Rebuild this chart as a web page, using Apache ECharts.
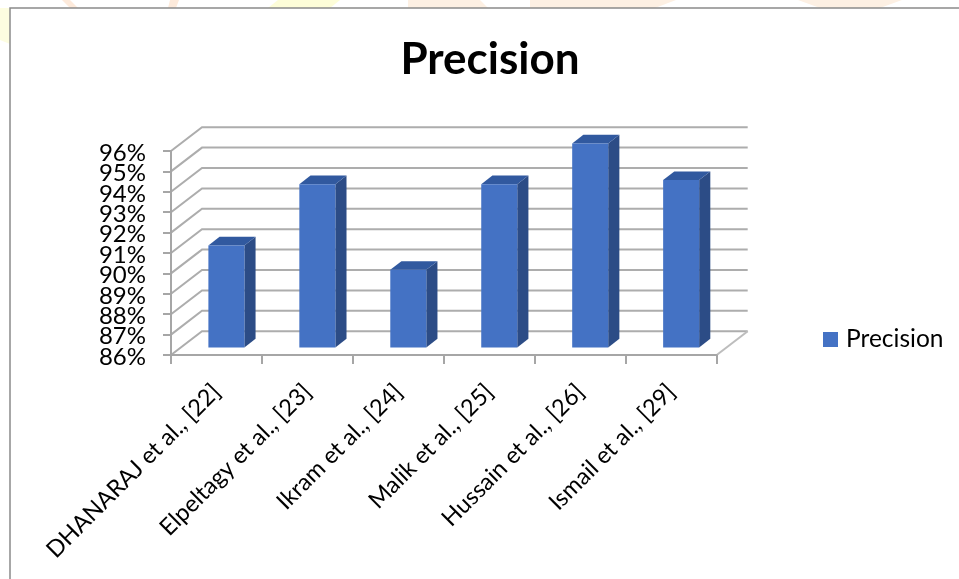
<!DOCTYPE html>
<html>
<head>
<meta charset="utf-8">
<title>Precision</title>
<script src="https://cdn.jsdelivr.net/npm/echarts@6/dist/echarts.min.js"></script>
<style>
html,body{margin:0;padding:0;background:#fff}
#chart{width:959px;height:579px}
</style>
</head>
<body>
<div id="chart"></div>
<script>
// Precision reported by each study
const studies = ['DHANARAJ et al., [22]', 'Elpeltagy et al., [23]', 'Ikram et al., [24]', 'Malik et al., [25]', 'Hussain et al., [26]', 'Ismail et al., [29]'];
const precision = [91, 94, 89.8, 94, 96, 94.2];
const gridTicks = [86, 87, 88, 89, 90, 91, 92, 93, 94, 95, 96];

// Oblique projection of the chart's depth axis, in pixels
const DEPTH_X = 31, DEPTH_Y = -23.8;
const BAR_NEAR = 0.32, BAR_FAR = 0.68, BAR_WIDTH = 0.396;

const FONT = 'Lato, "Open Sans", sans-serif';

// One gridline across the side and back walls, plus its percent label.
// The labels sit closer together than the axis's own overlap check allows,
// so they are drawn here to keep every one of them visible.
function renderWalls(params, api) {
  const value = api.value(0);
  const c = api.coord([0, value]);
  const sys = params.coordSys;
  const x0 = sys.x, x1 = sys.x + sys.width;
  const y = c[1];
  const children = [
    { type: 'polyline', shape: { points: [[x0, y], [x0 + DEPTH_X, y + DEPTH_Y], [x1 + DEPTH_X, y + DEPTH_Y]] },
      style: { fill: null, stroke: '#adadad', lineWidth: 2 } },
    { type: 'text', style: { x: x0 - 25, y: y + 2, text: value + '%', align: 'right', verticalAlign: 'middle',
      fill: '#000', fontFamily: FONT, fontSize: 24 } }
  ];
  if (params.dataIndex === 0) {
    // right edge of the floor
    children.push({ type: 'line', shape: { x1: x1, y1: y, x2: x1 + DEPTH_X, y2: y + DEPTH_Y },
      style: { stroke: '#bdbdbd', lineWidth: 2 } });
  }
  return { type: 'group', children };
}

function renderBar(params, api) {
  const top = api.coord([api.value(0), api.value(1)]);
  const base = api.coord([api.value(0), gridTicks[0]]);
  const w = api.size([1, 0])[0] * BAR_WIDTH;
  const nx = DEPTH_X * BAR_NEAR, ny = DEPTH_Y * BAR_NEAR;
  const fx = DEPTH_X * BAR_FAR - nx, fy = DEPTH_Y * BAR_FAR - ny;
  const l = top[0] - w / 2 + nx, r = l + w;
  const t = top[1] + ny, b = base[1] + ny;
  return {
    type: 'group',
    children: [
      { type: 'polygon', shape: { points: [[r, t], [r + fx, t + fy], [r + fx, b + fy], [r, b]] }, style: { fill: '#2c4c86' } },
      { type: 'polygon', shape: { points: [[l, t], [l + fx, t + fy], [r + fx, t + fy], [r, t]] }, style: { fill: '#31599f' } },
      { type: 'rect', shape: { x: l, y: t, width: w, height: b - t }, style: { fill: '#4472c4' } }
    ]
  };
}

const chart = echarts.init(document.getElementById('chart'), null, { renderer: 'canvas' });
chart.setOption({
  animation: false,
  backgroundColor: '#fff',
  title: {
    text: 'Precision', left: 485, top: 33, textAlign: 'center',
    textStyle: { fontFamily: FONT, fontWeight: 'bold', fontSize: 44, color: '#000' }
  },
  legend: {
    data: ['Precision'], left: 823, top: 327, padding: 0, itemWidth: 15, itemHeight: 15,
    icon: 'rect',
    textStyle: { fontFamily: FONT, fontSize: 24.5, color: '#000', padding: [0, 0, 0, 3] }
  },
  grid: { left: 171, top: 151, width: 545.7, height: 204 },
  xAxis: {
    type: 'category', data: studies, z: 5,
    axisLine: { show: true, lineStyle: { color: '#a6a6a6', width: 2 } },
    axisTick: { show: true, length: 9, lineStyle: { color: '#a6a6a6', width: 2 } },
    axisLabel: { rotate: 45, interval: 0, margin: 33, color: '#000', fontFamily: FONT, fontSize: 23.5 }
  },
  yAxis: {
    type: 'value', min: 86, max: 96, interval: 1, z: 5,
    axisLine: { show: true, lineStyle: { color: '#a6a6a6', width: 2 } },
    axisTick: { show: true, length: 8, lineStyle: { color: '#a6a6a6', width: 2 } },
    splitLine: { show: false },
    axisLabel: { show: false }
  },
  graphic: [
    // pale letterhead artwork showing around the chart frame
    { type: 'polygon', z: -1, shape: { points: [[0, 8], [10, 8], [10, 44], [0, 40]] }, style: { fill: '#fdfde0' } },
    { type: 'polygon', z: -1, shape: { points: [[268, 8], [278, 0], [340, 0], [330, 8]] }, style: { fill: '#fdfdd8' } },
    { type: 'polygon', z: -1, shape: { points: [[62, 0], [70, 0], [78, 8], [70, 8]] }, style: { fill: '#fdeadb' } },
    { type: 'polygon', z: -1, shape: { points: [[170, 0], [179, 0], [176, 8], [168, 8]] }, style: { fill: '#fdeadb' } },
    { type: 'polygon', z: -1, shape: { points: [[408, 0], [480, 0], [488, 8], [408, 8]] }, style: { fill: '#fdf0e3' } },
    { type: 'polygon', z: -1, shape: { points: [[530, 0], [676, 0], [655, 8], [530, 8]] }, style: { fill: '#fdf0e3' } },
    { type: 'polygon', z: -1, shape: { points: [[798, 0], [902, 0], [880, 8], [820, 8]] }, style: { fill: '#fdf0e3' } },
    // chart frame, open at the bottom and right where it leaves the page
    { type: 'polyline', z: 0, shape: { points: [[10, 579], [10, 8], [959, 8]] }, style: { fill: null, stroke: '#8a8a8a', lineWidth: 1.5 } }
  ],
  series: [
    { type: 'custom', name: 'walls', silent: true, z: 1, data: gridTicks.map(v => [v]),
      encode: { y: 0 }, renderItem: renderWalls },
    { type: 'custom', name: 'Precision', z: 2, itemStyle: { color: '#4472c4' },
      data: precision.map((v, i) => [i, v]), encode: { x: 0, y: 1 }, renderItem: renderBar }
  ]
});
</script>
</body>
</html>
